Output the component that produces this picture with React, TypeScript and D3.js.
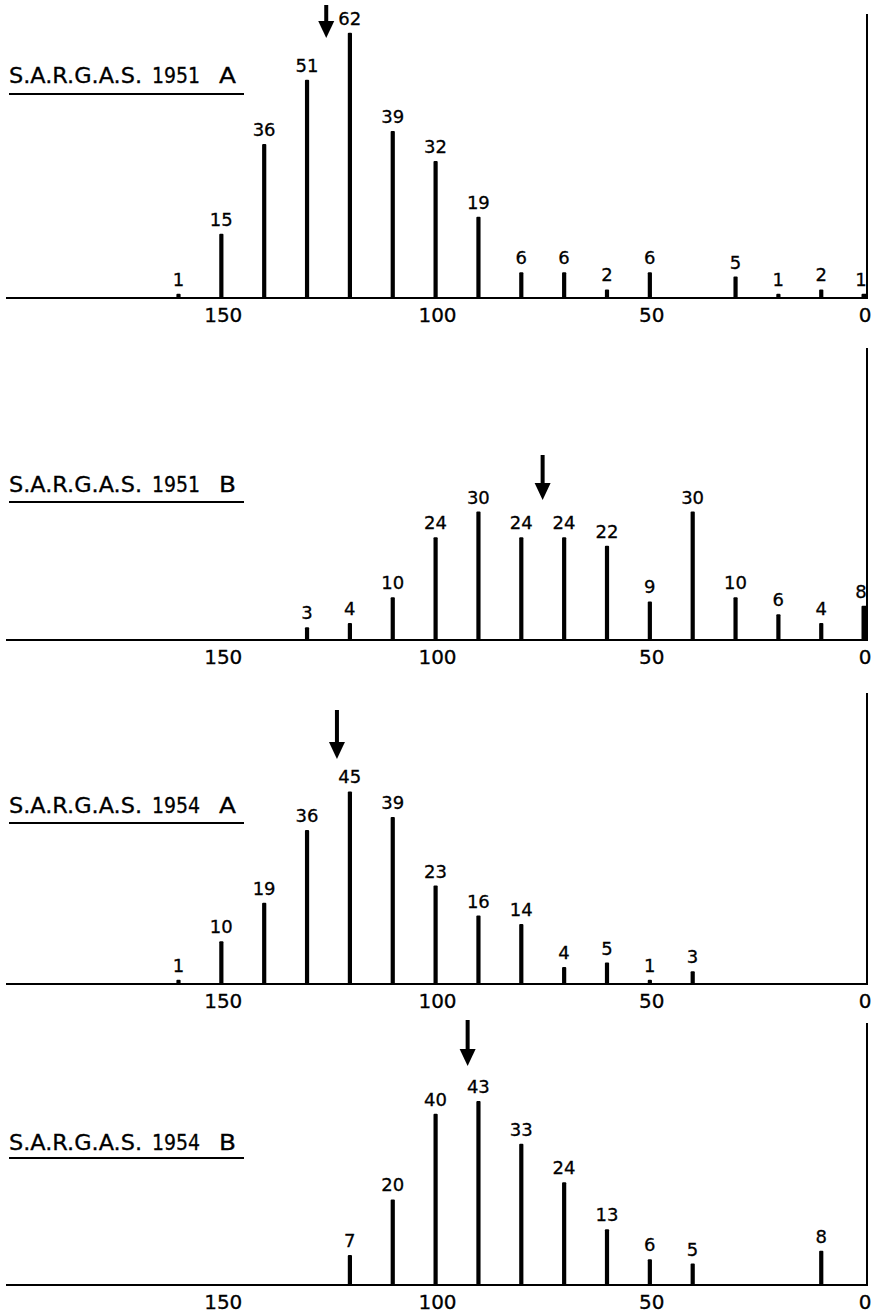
import React from 'react';
import { scaleLinear } from 'd3';

// length classes (x) and counts (bar heights) for each sample
const classes1951A = [160, 150, 140, 130, 120, 110, 100, 90, 80, 70, 60, 50, 30, 20, 10, 0];
const counts1951A = [1, 15, 36, 51, 62, 39, 32, 19, 6, 6, 2, 6, 5, 1, 2, 1];

const classes1951B = [130, 120, 110, 100, 90, 80, 70, 60, 50, 40, 30, 20, 10, 0];
const counts1951B = [3, 4, 10, 24, 30, 24, 24, 22, 9, 30, 10, 6, 4, 8];

const classes1954A = [160, 150, 140, 130, 120, 110, 100, 90, 80, 70, 60, 50, 40];
const counts1954A = [1, 10, 19, 36, 45, 39, 23, 16, 14, 4, 5, 1, 3];

const classes1954B = [120, 110, 100, 90, 80, 70, 60, 50, 40, 10];
const counts1954B = [7, 20, 40, 43, 33, 24, 13, 6, 5, 8];

const titles = [
  ['S.A.R.G.A.S.', '1951', 'A'],
  ['S.A.R.G.A.S.', '1951', 'B'],
  ['S.A.R.G.A.S.', '1954', 'A'],
  ['S.A.R.G.A.S.', '1954', 'B'],
];

// where the arrow points on the length axis
const arrowValues = [125.5, 75, 123, 92.5];

const tickValues = [150, 100, 50, 0];

const series = [
  { classes: classes1951A, counts: counts1951A },
  { classes: classes1951B, counts: counts1951B },
  { classes: classes1954A, counts: counts1954A },
  { classes: classes1954B, counts: counts1954B },
];

// page layout for each panel (pixels)
const layout = [
  { base: 298, axisTop: 14, arrowTop: 5, arrowTip: 38, titleY: 83, lineY: 94 },
  { base: 640, axisTop: 348, arrowTop: 455, arrowTip: 500, titleY: 492, lineY: 502 },
  { base: 984, axisTop: 693, arrowTop: 710, arrowTip: 759, titleY: 813, lineY: 823 },
  { base: 1285, axisTop: 1023, arrowTop: 1020, arrowTip: 1066, titleY: 1150, lineY: 1158 },
];

const W = 882;
const H = 1315;
const FONT = '"DejaVu Sans", "Liberation Sans", sans-serif';

const x = scaleLinear().domain([200, 0]).range([7, 864]);
// bar height in px per count
const h = scaleLinear().domain([0, 70]).range([0, 299.6]);

const Panel = ({ idx }: { idx: number }) => {
  const { classes, counts } = series[idx];
  const L = layout[idx];
  const t = titles[idx];
  const axisX = x(0) + 3;
  const ax = x(arrowValues[idx]);
  return (
    <g>
      {/* title */}
      <g stroke="#000" strokeWidth={0.3}>
        <text x={9} y={L.titleY} fontSize={22} fontFamily={FONT} textLength={133} lengthAdjust="spacingAndGlyphs">
          {t[0]}
        </text>
        <text x={152} y={L.titleY} fontSize={21} fontFamily={FONT} textLength={48} lengthAdjust="spacingAndGlyphs">
          {t[1]}
        </text>
        <text x={219} y={L.titleY} fontSize={22} fontFamily={FONT} textLength={17} lengthAdjust="spacingAndGlyphs">
          {t[2]}
        </text>
      </g>
      <line x1={9} x2={244} y1={L.lineY} y2={L.lineY} stroke="#000" strokeWidth={2} />

      {/* baseline and right axis */}
      <line x1={6} x2={axisX + 1} y1={L.base} y2={L.base} stroke="#000" strokeWidth={2.2} />
      <line x1={axisX} x2={axisX} y1={L.axisTop} y2={L.base} stroke="#000" strokeWidth={2} />

      {/* bars */}
      {classes.map((c, i) => (
        <g key={c}>
          <rect
            x={x(c) - (c === 0 ? 2.5 : 2)}
            y={L.base - h(counts[i])}
            width={c === 0 ? 6 : 4.2}
            height={h(counts[i])}
            fill="#000"
            rx={1}
          />
          <text
            x={x(c) + (c === 0 ? -3 : 0)}
            y={L.base - h(counts[i]) - 8}
            fontSize={18}
            fontFamily={FONT}
            textAnchor="middle"
            stroke="#000"
            strokeWidth={0.3}
          >
            {counts[i]}
          </text>
        </g>
      ))}

      {/* tick labels */}
      {tickValues.map((v) => (
        <text
          key={v}
          x={x(v) + (v === 0 ? 1 : 2)}
          y={L.base + 24}
          fontSize={20}
          fontFamily={FONT}
          textAnchor="middle"
          stroke="#000"
          strokeWidth={0.3}
        >
          {v}
        </text>
      ))}

      {/* arrow */}
      <line x1={ax} x2={ax} y1={L.arrowTop} y2={L.arrowTip - 14} stroke="#000" strokeWidth={4} />
      <path
        d={`M${ax - 8},${L.arrowTip - 17} L${ax + 8},${L.arrowTip - 17} L${ax},${L.arrowTip} Z`}
        fill="#000"
      />
    </g>
  );
};

export default function App() {
  return (
    <svg
      width={W}
      height={H}
      style={{ position: 'absolute', left: 0, top: 0, background: '#fff' }}
    >
      <rect width={W} height={H} fill="#fff" />
      {series.map((_, i) => (
        <Panel key={i} idx={i} />
      ))}
    </svg>
  );
}
